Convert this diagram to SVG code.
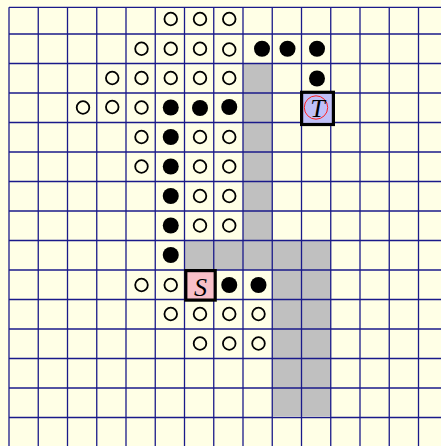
<svg xmlns="http://www.w3.org/2000/svg" width="441" height="446" viewBox="0 0 441 446">
<style>
.grid line{stroke:#1a1a8a;stroke-width:1.3}
.o{fill:none;stroke:#000;stroke-width:1.8}
.f{fill:#000}
.box{stroke:#000;stroke-width:3.2}
.lbl{font-family:"Liberation Serif","DejaVu Serif",serif;font-style:italic;font-size:26px;fill:#000;text-anchor:middle}
</style>
<rect x="0" y="0" width="441" height="446" fill="#ffffe6"/>
<g id="route" fill="#c0c0c0">
<rect x="243" y="63.5" width="29.25" height="177"/>
<rect x="184.5" y="240.5" width="146.25" height="29.5"/>
<rect x="272.25" y="240.5" width="58.5" height="175.5"/>
</g>
<g class="grid">
<line x1="9" y1="7.3" x2="441" y2="7.3"/>
<line x1="9" y1="34" x2="441" y2="34"/>
<line x1="9" y1="63.5" x2="441" y2="63.5"/>
<line x1="9" y1="93" x2="441" y2="93"/>
<line x1="9" y1="122.5" x2="441" y2="122.5"/>
<line x1="9" y1="152" x2="441" y2="152"/>
<line x1="9" y1="181.5" x2="441" y2="181.5"/>
<line x1="9" y1="211" x2="441" y2="211"/>
<line x1="9" y1="240.5" x2="441" y2="240.5"/>
<line x1="9" y1="270" x2="441" y2="270"/>
<line x1="9" y1="299.5" x2="441" y2="299.5"/>
<line x1="9" y1="329" x2="441" y2="329"/>
<line x1="9" y1="358.5" x2="441" y2="358.5"/>
<line x1="9" y1="388" x2="441" y2="388"/>
<line x1="9" y1="417.5" x2="441" y2="417.5"/>
<line x1="9" y1="7.3" x2="9" y2="446"/>
<line x1="38.25" y1="7.3" x2="38.25" y2="446"/>
<line x1="67.5" y1="7.3" x2="67.5" y2="446"/>
<line x1="96.75" y1="7.3" x2="96.75" y2="446"/>
<line x1="126" y1="7.3" x2="126" y2="446"/>
<line x1="155.25" y1="7.3" x2="155.25" y2="446"/>
<line x1="184.5" y1="7.3" x2="184.5" y2="446"/>
<line x1="213.75" y1="7.3" x2="213.75" y2="446"/>
<line x1="243" y1="7.3" x2="243" y2="446"/>
<line x1="272.25" y1="7.3" x2="272.25" y2="446"/>
<line x1="301.5" y1="7.3" x2="301.5" y2="446"/>
<line x1="330.75" y1="7.3" x2="330.75" y2="446"/>
<line x1="360" y1="7.3" x2="360" y2="446"/>
<line x1="389.25" y1="7.3" x2="389.25" y2="446"/>
<line x1="418.5" y1="7.3" x2="418.5" y2="446"/>
</g>
<g id="open">
<circle class="o" cx="170.75" cy="19" r="6.3"/>
<circle class="o" cx="200" cy="19" r="6.3"/>
<circle class="o" cx="229.25" cy="19" r="6.3"/>
<circle class="o" cx="141.5" cy="48.75" r="6.3"/>
<circle class="o" cx="170.75" cy="48.75" r="6.3"/>
<circle class="o" cx="200" cy="48.75" r="6.3"/>
<circle class="o" cx="229.25" cy="49.5" r="6.3"/>
<circle class="o" cx="112.25" cy="78" r="6.3"/>
<circle class="o" cx="141.5" cy="78" r="6.3"/>
<circle class="o" cx="170.75" cy="78" r="6.3"/>
<circle class="o" cx="200" cy="78" r="6.3"/>
<circle class="o" cx="229.25" cy="78" r="6.3"/>
<circle class="o" cx="83" cy="107.5" r="6.3"/>
<circle class="o" cx="112.25" cy="107" r="6.3"/>
<circle class="o" cx="141.5" cy="107.5" r="6.3"/>
<circle class="o" cx="141.5" cy="137" r="6.3"/>
<circle class="o" cx="200" cy="137" r="6.3"/>
<circle class="o" cx="229.25" cy="137" r="6.3"/>
<circle class="o" cx="141.5" cy="166.5" r="6.3"/>
<circle class="o" cx="200" cy="166.5" r="6.3"/>
<circle class="o" cx="229.25" cy="166.5" r="6.3"/>
<circle class="o" cx="200" cy="196" r="6.3"/>
<circle class="o" cx="229.25" cy="196" r="6.3"/>
<circle class="o" cx="200" cy="225.5" r="6.3"/>
<circle class="o" cx="229.25" cy="225.5" r="6.3"/>
<circle class="o" cx="141.5" cy="285" r="6.3"/>
<circle class="o" cx="170.75" cy="285" r="6.3"/>
<circle class="o" cx="170.75" cy="314" r="6.3"/>
<circle class="o" cx="200" cy="314" r="6.3"/>
<circle class="o" cx="229.25" cy="314" r="6.3"/>
<circle class="o" cx="258.5" cy="314" r="6.3"/>
<circle class="o" cx="200" cy="343.5" r="6.3"/>
<circle class="o" cx="229.25" cy="343.5" r="6.3"/>
<circle class="o" cx="258.5" cy="343.5" r="6.3"/>
</g>
<g id="filled">
<circle class="f" cx="262" cy="48.75" r="8"/>
<circle class="f" cx="287.5" cy="48.75" r="8"/>
<circle class="f" cx="317" cy="48.75" r="8"/>
<circle class="f" cx="317" cy="78.5" r="8"/>
<circle class="f" cx="170.75" cy="107.5" r="8"/>
<circle class="f" cx="200" cy="108" r="8"/>
<circle class="f" cx="229.25" cy="107" r="8"/>
<circle class="f" cx="170.75" cy="137" r="8"/>
<circle class="f" cx="170.75" cy="166.5" r="8"/>
<circle class="f" cx="170.75" cy="196" r="8"/>
<circle class="f" cx="170.75" cy="225.5" r="8"/>
<circle class="f" cx="170.75" cy="255" r="8"/>
<circle class="f" cx="229.25" cy="285" r="8"/>
<circle class="f" cx="258.5" cy="285" r="8"/>
</g>
<g id="S">
<rect class="box" x="185.8" y="270.6" width="29.4" height="29.5" fill="#f8c0c8"/>
<text class="lbl" x="200.5" y="295.5">S</text>
</g>
<g id="T">
<rect class="box" x="301.6" y="92.3" width="31.8" height="32.2" fill="#c0c0f8"/>
<circle cx="316" cy="107.5" r="11.7" fill="none" stroke="#ff2020" stroke-width="1"/>
<text class="lbl" x="317.5" y="117">T</text>
</g>
</svg>
